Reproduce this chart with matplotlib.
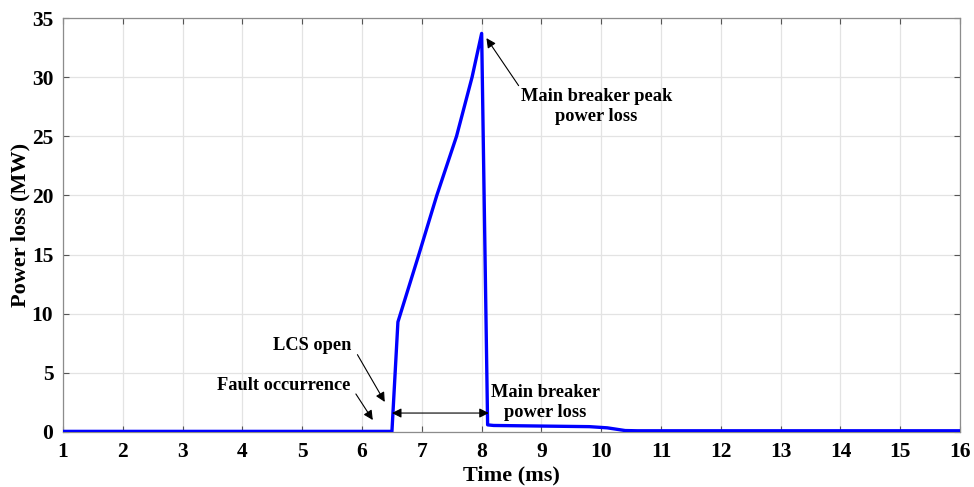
import matplotlib
matplotlib.use("Agg")
import matplotlib.pyplot as plt

# power loss trace (time in ms, power in MW)
t = [1.0, 6.5, 6.6, 6.95, 7.25, 7.58, 7.84, 8.0, 8.1, 8.2, 9.0, 9.8, 10.1, 10.4, 10.6, 16.0]
p = [0.05, 0.05, 9.3, 15.0, 20.0, 25.0, 30.0, 33.7, 0.6, 0.55, 0.5, 0.45, 0.35, 0.12, 0.1, 0.1]

xticks = list(range(1, 17))
yticks = [0, 5, 10, 15, 20, 25, 30, 35]

plt.rcParams['font.family'] = ['Liberation Serif', 'DejaVu Serif']
plt.rcParams['font.weight'] = 'bold'

fig = plt.figure(figsize=(9.74, 4.87), dpi=100)
ax = fig.add_axes([0.0647, 0.113, 0.921, 0.85])

ax.plot(t, p, color='#0000ff', linewidth=2.4, zorder=3)
ax.set_xlim(1, 16)
ax.set_ylim(0, 35)
ax.set_xticks(xticks)
ax.set_yticks(yticks)
ax.grid(True, color='#e3e3e3', linewidth=0.9)
ax.tick_params(labelsize=15.5, direction='in', length=4, color='#555555',
               top=True, right=True, pad=7)
for s in ax.spines.values():
    s.set_color('#8c8c8c')
    s.set_linewidth(0.9)

ax.set_xlabel('Time (ms)', fontsize=16, fontweight='bold', labelpad=3)
ax.set_ylabel('Power loss (MW)', fontsize=16, fontweight='bold', labelpad=1)

fs = 13.2
arr = dict(arrowstyle='-|>', color='black', lw=0.8, mutation_scale=14)
ax.annotate('Main breaker peak\npower loss', xy=(8.08, 33.3), xytext=(8.65, 27.5),
            fontsize=fs, fontweight='bold', ha='left', va='center',
            multialignment='center', arrowprops=dict(arr, shrinkA=0, shrinkB=0,
            relpos=(0.0, 1.0)))
ax.annotate('LCS open', xy=(6.38, 2.54), xytext=(5.83, 7.35),
            fontsize=fs, fontweight='bold', ha='right', va='center',
            arrowprops=dict(arr, shrinkA=4, shrinkB=0, relpos=(1.0, 0.5)))
ax.annotate('Fault occurrence', xy=(6.18, 1.01), xytext=(5.8, 3.97),
            fontsize=fs, fontweight='bold', ha='right', va='center',
            arrowprops=dict(arr, shrinkA=4, shrinkB=0, relpos=(1.0, 0.5)))
ax.annotate('', xy=(6.5, 1.6), xytext=(8.12, 1.6),
            arrowprops=dict(arrowstyle='<|-|>', color='black', lw=0.8,
                            mutation_scale=14, shrinkA=0, shrinkB=0))
ax.text(8.15, 2.5, 'Main breaker\npower loss', fontsize=fs, fontweight='bold',
        ha='left', va='center', multialignment='center')

fig.savefig('out.png', dpi=100)
